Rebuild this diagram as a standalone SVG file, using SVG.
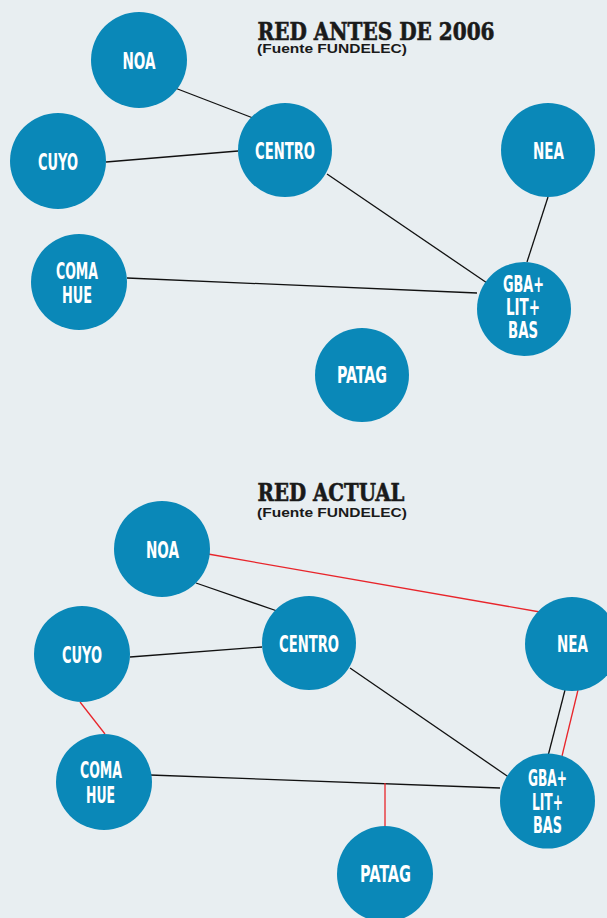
<svg xmlns="http://www.w3.org/2000/svg" width="607" height="918" viewBox="0 0 607 918">
<style>
.bg{fill:#e8eef1}
.n{fill:#0a88b8}
.l{fill:#fff;font-family:"DejaVu Sans Condensed","Liberation Sans Narrow","Liberation Sans",sans-serif;font-weight:bold;font-size:22.5px;text-anchor:middle;font-stretch:condensed}
.t{fill:#1a1a1a;stroke:#1a1a1a;stroke-width:0.6;font-family:"DejaVu Serif Condensed","DejaVu Serif","Liberation Serif",serif;font-weight:bold;font-size:25px}
.s{fill:#1a1a1a;font-family:"Liberation Sans","DejaVu Sans",sans-serif;font-weight:bold;font-size:12.5px}
.k{stroke:#111;stroke-width:1.3;fill:none}
.r{stroke:#e8252b;stroke-width:1.3;fill:none}
</style>
<rect class="bg" x="0" y="0" width="607" height="918"/>
<text class="t" x="257.5" y="39.5" textLength="237" lengthAdjust="spacingAndGlyphs">RED ANTES DE 2006</text>
<text class="s" x="257" y="53" textLength="150" lengthAdjust="spacingAndGlyphs">(Fuente FUNDELEC)</text>
<text class="t" x="257.5" y="501" textLength="147" lengthAdjust="spacingAndGlyphs">RED ACTUAL</text>
<text class="s" x="257" y="517" textLength="150" lengthAdjust="spacingAndGlyphs">(Fuente FUNDELEC)</text>
<g id="connectors">
<line class="k" x1="175" y1="88" x2="253" y2="118"/>
<line class="k" x1="106" y1="162" x2="238" y2="151"/>
<line class="k" x1="327" y1="174" x2="490" y2="285"/>
<line class="k" x1="548" y1="197" x2="527" y2="262"/>
<line class="k" x1="127" y1="278" x2="477" y2="293"/>
<line class="r" x1="208" y1="554" x2="540" y2="612"/>
<line class="k" x1="196" y1="583" x2="280" y2="612"/>
<line class="k" x1="130" y1="657" x2="262" y2="647"/>
<line class="k" x1="350" y1="668" x2="513" y2="780"/>
<line class="k" x1="565" y1="690" x2="548" y2="756"/>
<line class="r" x1="578" y1="690" x2="562" y2="756"/>
<line class="r" x1="80" y1="702" x2="105" y2="734"/>
<line class="k" x1="150" y1="775" x2="500" y2="788"/>
<line class="r" x1="385" y1="783" x2="385" y2="827"/>
</g>
<g id="noa1"><circle class="n" cx="139" cy="60" r="48"/><text class="l" x="139" y="69" textLength="33" lengthAdjust="spacingAndGlyphs">NOA</text></g>
<g id="cuyo1"><circle class="n" cx="58" cy="161" r="48"/><text class="l" x="58" y="170" textLength="40" lengthAdjust="spacingAndGlyphs">CUYO</text></g>
<g id="centro1"><circle class="n" cx="285" cy="150" r="47"/><text class="l" x="285" y="159" textLength="60" lengthAdjust="spacingAndGlyphs">CENTRO</text></g>
<g id="nea1"><circle class="n" cx="548" cy="150" r="47"/><text class="l" x="548.5" y="159" textLength="31" lengthAdjust="spacingAndGlyphs">NEA</text></g>
<g id="comahue1"><circle class="n" cx="79" cy="282" r="48"/><text class="l" x="77" y="279" textLength="42" lengthAdjust="spacingAndGlyphs">COMA</text><text class="l" x="77" y="303" textLength="30" lengthAdjust="spacingAndGlyphs">HUE</text></g>
<g id="gba1"><circle class="n" cx="524" cy="309" r="47"/><text class="l" x="523.5" y="292" textLength="41" lengthAdjust="spacingAndGlyphs">GBA+</text><text class="l" x="523" y="315" textLength="34" lengthAdjust="spacingAndGlyphs">LIT+</text><text class="l" x="523" y="338" textLength="30" lengthAdjust="spacingAndGlyphs">BAS</text></g>
<g id="patag1"><circle class="n" cx="362" cy="375" r="47"/><text class="l" x="362" y="383" textLength="50" lengthAdjust="spacingAndGlyphs">PATAG</text></g>
<g id="noa2"><circle class="n" cx="162" cy="549" r="48"/><text class="l" x="162.5" y="558" textLength="33" lengthAdjust="spacingAndGlyphs">NOA</text></g>
<g id="cuyo2"><circle class="n" cx="82" cy="654" r="48"/><text class="l" x="82" y="663" textLength="40" lengthAdjust="spacingAndGlyphs">CUYO</text></g>
<g id="centro2"><circle class="n" cx="309" cy="643" r="47"/><text class="l" x="309" y="652" textLength="60" lengthAdjust="spacingAndGlyphs">CENTRO</text></g>
<g id="nea2"><circle class="n" cx="572" cy="644" r="47"/><text class="l" x="572.5" y="652" textLength="31" lengthAdjust="spacingAndGlyphs">NEA</text></g>
<g id="comahue2"><circle class="n" cx="104" cy="782" r="48"/><text class="l" x="101" y="778" textLength="42" lengthAdjust="spacingAndGlyphs">COMA</text><text class="l" x="100.5" y="803" textLength="29" lengthAdjust="spacingAndGlyphs">HUE</text></g>
<g id="gba2"><circle class="n" cx="547.5" cy="801" r="47.5"/><text class="l" x="547.5" y="786" textLength="39" lengthAdjust="spacingAndGlyphs">GBA+</text><text class="l" x="547.5" y="810" textLength="31" lengthAdjust="spacingAndGlyphs">LIT+</text><text class="l" x="547.5" y="833" textLength="29" lengthAdjust="spacingAndGlyphs">BAS</text></g>
<g id="patag2"><circle class="n" cx="385" cy="874" r="48"/><text class="l" x="385.5" y="882" textLength="51" lengthAdjust="spacingAndGlyphs">PATAG</text></g>
</svg>
